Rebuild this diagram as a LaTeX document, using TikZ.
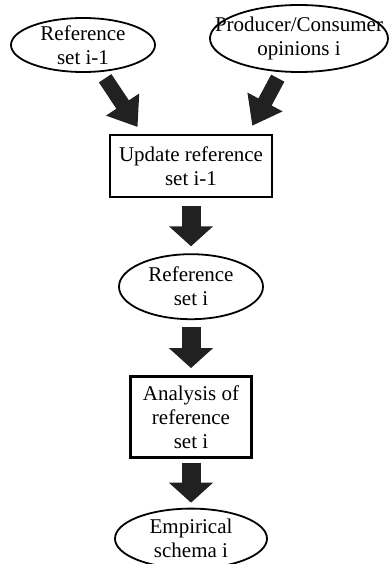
\documentclass[tikz,border=0pt]{standalone}
\usepackage{fontspec}
\setmainfont{Liberation Serif}
\usetikzlibrary{positioning,shapes.geometric,arrows.meta}

\begin{document}
\begin{tikzpicture}[x=1pt,y=-1pt,node distance=55pt,
    oval/.style={ellipse,draw,line width=1.8pt,inner sep=0pt},
    stage/.style={rectangle,draw,line width=2.6pt,inner sep=0pt,align=center,font=\fontsize{21}{24}\selectfont},
    txt/.style={align=center,font=\fontsize{21}{24}\selectfont},
    fat arrow/.style={line width=19pt,-{Triangle[width=43pt,length=20pt]},black!87},
    slant arrow/.style={line width=15pt,-{Triangle[width=38pt,length=27pt]},black!87}]

    \useasboundingbox (0,0) rectangle (390,564);

    \node[oval,minimum width=144pt,minimum height=54pt] (ref1) at (83,45)
        [label={[txt]center:Reference\\set i-1}]{};
    \node[oval,minimum width=178pt,minimum height=67pt] (ops) at (299,38.5)
        [label={[txt]center:Producer/Consumer\\opinions i}]{};

    \node[stage,minimum width=162pt,minimum height=62pt] (upd) at (191,166) {Update reference\\set i-1};
    \node[oval,minimum width=144pt,minimum height=65pt] (refi) [below=of upd]
        [label={[txt]center:Reference\\set i}]{};
    \node[stage,minimum width=121pt,minimum height=81pt] (ana) [below=of refi] {Analysis of\\reference\\set i};
    \node[oval,minimum width=152pt,minimum height=60pt] (emp) [below=49pt of ana]
        [label={[txt]center:Empirical\\schema i}]{};

    % arrows between the stages
    \draw[slant arrow,shorten <=40pt,shorten >=8pt] (ref1.center) -- ([xshift=-49pt]upd.north);
    \draw[slant arrow,shorten <=45pt,shorten >=9pt] (ops.center) -- ([xshift=57pt]upd.north);
    \draw[fat arrow,shorten <=8pt,shorten >=7pt] (upd) -- (refi);
    \draw[fat arrow,shorten <=7pt,shorten >=7pt] (refi) -- (ana);
    \draw[fat arrow,shorten <=4pt,shorten >=5pt] (ana) -- (emp);
\end{tikzpicture}
\end{document}
